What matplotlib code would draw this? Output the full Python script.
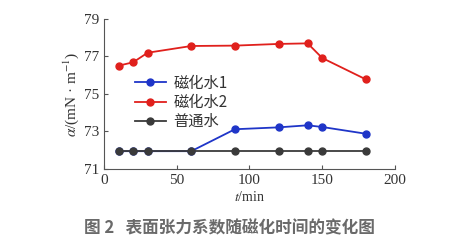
import matplotlib
matplotlib.use("Agg")
import matplotlib.pyplot as plt

plt.rcParams["font.family"] = ["Liberation Serif", "Noto Sans CJK SC"]
plt.rcParams["mathtext.fontset"] = "stix"

t = [10, 20, 30, 60, 90, 120, 140, 150, 180]
water1 = [71.95, 71.95, 71.95, 71.95, 73.12, 73.22, 73.33, 73.24, 72.88]
water2 = [76.51, 76.69, 77.2, 77.56, 77.58, 77.67, 77.7, 76.92, 75.78]
plain = [71.95, 71.95, 71.95, 71.95, 71.95, 71.95, 71.95, 71.95, 71.95]

labels = ["磁化水1", "磁化水2", "普通水"]
colors = ["#1f35c8", "#e0201c", "#3a3a3a"]

fig = plt.figure(figsize=(4.49, 2.42), dpi=100)
ax = fig.add_axes([0.2316, 0.3017, 0.648, 0.6198])

for y, lab, c in zip([water1, water2, plain], labels, colors):
    ax.plot(t, y, "-o", color=c, lw=1.3, ms=5, label=lab)

ax.set_xlim(0, 200)
ax.set_ylim(71, 79)
ax.set_xticks([0, 50, 100, 150, 200])
ax.set_yticks([71, 73, 75, 77, 79])
ax.spines["top"].set_visible(False)
ax.spines["right"].set_visible(False)
for s in ["left", "bottom"]:
    ax.spines[s].set_color("#555555")
ax.tick_params(direction="in", length=3, labelsize=11, colors="#555555",
               labelcolor="#333333")

ax.set_xlabel("$t$/min", fontsize=10, color="#333333", labelpad=2)
ax.set_ylabel(r"$\alpha$/(mN · m$^{-1}$)", fontsize=11, color="#333333", labelpad=2)

leg = ax.legend(loc="upper left", bbox_to_anchor=(0.07, 0.70), frameon=False,
                prop={"family": ["Noto Sans CJK SC"], "size": 11},
                handlelength=2.0, labelspacing=0.15, handletextpad=0.5,
                borderpad=0.2)
for txt in leg.get_texts():
    txt.set_color("#333333")

fig.text(0.51, 0.055, "图 2   表面张力系数随磁化时间的变化图", ha="center",
         va="center", fontsize=12, color="#6a6a6a", fontweight="bold",
         family=["Noto Sans CJK SC"])

fig.savefig("out.png", dpi=100)
